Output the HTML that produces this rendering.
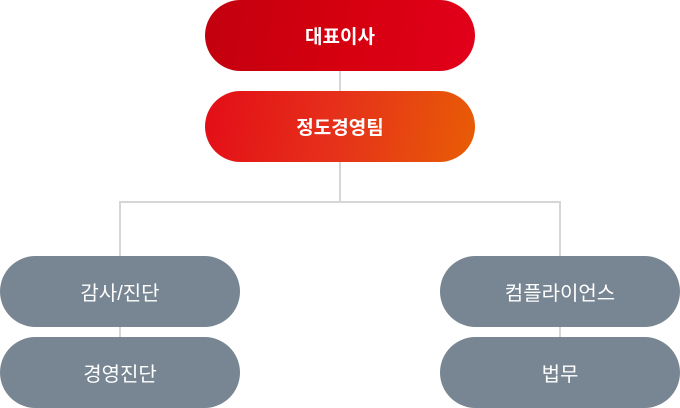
<!DOCTYPE html>
<html><head><meta charset="utf-8"><style>
html,body{margin:0;padding:0;background:#fff;}
body{width:680px;height:408px;position:relative;overflow:hidden;font-family:"Liberation Sans","Noto Sans CJK KR",sans-serif;}
.l{position:absolute;background:#d6d6d6;}
.b{position:absolute;border-radius:36px;color:#fff;display:flex;align-items:center;justify-content:center;font-size:19px;letter-spacing:0px;}
.r1{left:205px;top:0;width:270px;height:71px;background:linear-gradient(100deg,#c2000f 0%,#d5000f 50%,#e2001a 100%);font-weight:bold;}
.r2{left:205px;top:91px;width:270px;height:71px;background:linear-gradient(100deg,#e30d17 0%,#e6321a 50%,#e85d05 100%);font-weight:bold;}
.g{background:#778692;width:240px;height:71px;font-size:20px;}
</style></head><body>
<div class="l" style="left:339px;top:60px;width:2px;height:40px"></div>
<div class="l" style="left:339px;top:150px;width:2px;height:53px"></div>
<div class="l" style="left:119px;top:201px;width:442px;height:2px"></div>
<div class="l" style="left:119px;top:201px;width:2px;height:145px"></div>
<div class="l" style="left:559px;top:201px;width:2px;height:145px"></div>
<div class="b r1">대표이사</div>
<div class="b r2">정도경영팀</div>
<div class="b g" style="left:0;top:256px">감사/진단</div>
<div class="b g" style="left:0;top:337px">경영진단</div>
<div class="b g" style="left:440px;top:256px">컴플라이언스</div>
<div class="b g" style="left:440px;top:337px">법무</div>
</body></html>
